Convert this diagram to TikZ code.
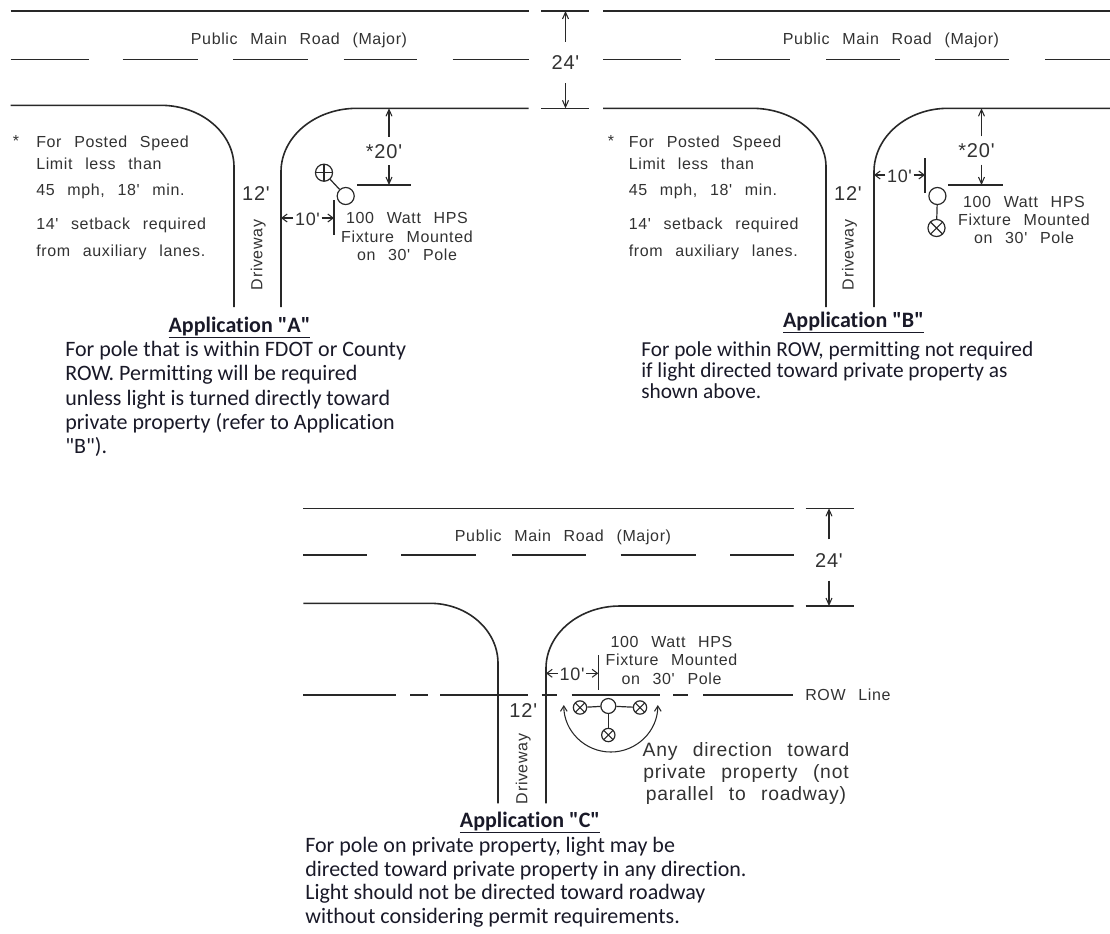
\documentclass[tikz,border=0pt]{standalone}
\usepackage{fontspec}
\setmainfont{Carlito}[Ligatures={TeXOff,NoCommon}]
\newfontfamily\cadfont{Liberation Sans}[Ligatures=TeXOff,WordSpace=2.5,LetterSpace=4]
\usetikzlibrary{arrows.meta}
\definecolor{inkline}{RGB}{40,40,40}
\definecolor{cadgray}{RGB}{50,50,50}
\definecolor{bodyink}{RGB}{25,25,40}
\tikzset{
  road/.style={inkline, line width=1.2pt},
  curb/.style={inkline, line width=0.9pt},
  dimline/.style={inkline, line width=0.8pt},
  dimarrow/.style={dimline, -{Straight Barb[length=5pt,width=4.5pt]}},
  tenarrow/.style={dimline, -{Straight Barb[length=4pt,width=6pt]}},
  cad/.style={font=\cadfont\fontsize{12}{14}\selectfont, text=cadgray, inner sep=0pt, text height=8.6pt, text depth=0pt},
  dimtext/.style={cad, font=\cadfont\fontsize{15}{17}\selectfont, text height=10.7pt},
  bodytext/.style={font=\fontsize{16.5}{18}\selectfont, text=bodyink, inner sep=0pt, text height=11.5pt, text depth=3.5pt},
  applabel/.style={bodytext, font=\bfseries\fontsize{16.5}{18}\selectfont},
  pole/.style={circle, draw=inkline, line width=0.9pt, inner sep=0pt, minimum size=12.8pt},
  fixcross/.style={pole, path picture={\draw[inkline, line width=0.8pt]
      (path picture bounding box.north west) -- (path picture bounding box.south east)
      (path picture bounding box.north east) -- (path picture bounding box.south west);}},
  fixplus/.style={pole, path picture={\draw[inkline, line width=0.8pt]
      (path picture bounding box.north) -- (path picture bounding box.south)
      (path picture bounding box.east) -- (path picture bounding box.west);}}
}
\begin{document}
\begin{tikzpicture}[x=0.75pt, y=-0.75pt]
\useasboundingbox (0,0) rectangle (1110,933);

% roads of applications A and B
\draw[road] (10.7,11) -- (528.6,11);
\draw[road] (541,11) -- (589,11);
\draw[road] (603,11) -- (1110,11);
\foreach \a/\b in {10.7/88.6, 122.5/197.5, 232.9/307.9, 343.6/416.8, 452.5/528.6,
                   603/681, 715/790, 826/900, 935/1009, 1045/1110}
  \draw[road] (\a,59.3) -- (\b,59.3);
\draw[road] (10.7,105.3) -- (160.7,105.3) .. controls (201.2,105.3) and (234,132.9) .. (234,167) -- (234,307);
\draw[road] (281,307) -- (281,171.7) .. controls (281,136.7) and (315,108.3) .. (357,108.3) -- (528.6,108.3);
\draw[road] (541,108.3) -- (589,108.3);
\draw[road] (603,108.3) -- (752,108.3) .. controls (792.9,108.3) and (826,134.4) .. (826,166.7) -- (826,307);
\draw[road] (874,307) -- (874,171.7) .. controls (874,136.7) and (907.1,108.3) .. (948,108.3) -- (1110,108.3);

% road of application C
\draw[road] (303.4,508.3) -- (793.7,508.3);
\draw[road] (805.5,508.3) -- (854,508.3);
\foreach \a/\b in {303.4/367, 401/476, 512/586, 620.5/695.6, 730/793.7}
  \draw[road] (\a,555) -- (\b,555);
\draw[road] (303.4,603.3) -- (430,603.3) .. controls (467.6,603.3) and (498,630.2) .. (498,663.3) -- (498,803.3);
\draw[road] (546,803.3) -- (546,668.3) .. controls (546,633.9) and (579.1,606) .. (620,606) -- (793.7,606);
\draw[road] (805.5,606) -- (854,606);
% ROW line
\foreach \a/\b in {303.4/396, 410/428, 440/528.3, 541.7/556.7, 571.7/660, 673/688, 703/793}
  \draw[road] (\a,695) -- (\b,695);
\node[cad, anchor=west] (rowC) at (805,695) {ROW Line};

% road names
\node[cad] (roadA) at (299,39) {Public Main Road (Major)};
\node[cad] (roadB) at (891,39) {Public Main Road (Major)};
\node[cad] (roadC) at (563,536) {Public Main Road (Major)};

% 24' widths
\node[dimtext, inner ysep=10pt] (wAB) at (565.5,62.3) {24'};
\coordinate (wABtop) at (565.5,11);
\coordinate (wABbot) at (565.5,108.3);
\draw[dimarrow] (wAB.north) -- (wABtop);
\draw[dimarrow] (wAB.south) -- (wABbot);
\node[dimtext, inner ysep=10pt] (wC) at (829,560) {24'};
\coordinate (wCtop) at (829,508.3);
\coordinate (wCbot) at (829,606);
\draw[dimarrow] (wC.north) -- (wCtop);
\draw[dimarrow] (wC.south) -- (wCbot);

% notes
\node[cad] (starA) at (16,140.5) {*};
\node[cad] (starB) at (611,140.5) {*};
\foreach \y/\t [count=\i] in {141.7/{For Posted Speed}, 163.3/{Limit less than},
    190/{45 mph, 18' min.}, 224/{14' setback required}, 250.7/{from auxiliary lanes.}}{
  \node[cad, anchor=west] (noteA\i) at (36,\y) {\t};
  \node[cad, anchor=west] (noteB\i) at (628.5,\y) {\t};
}

% driveways
\node[dimtext] (drA) at (256,193) {12'};
\node[dimtext] (drB) at (848,193) {12'};
\node[dimtext] (drC) at (523.3,710) {12'};
\node[cad, rotate=90] (dwA) at (256.7,255) {Driveway};
\node[cad, rotate=90] (dwB) at (848,255) {Driveway};
\node[cad, rotate=90] (dwC) at (521.7,769) {Driveway};

% *20' setbacks
\node[dimtext, inner ysep=5pt] (sA) at (384,151) {*20'};
\coordinate (sAtop) at (389,108.3);
\coordinate (sAbot) at (389,185);
\draw[dimarrow] (sAtop |- sA.north) -- (sAtop);
\draw[dimarrow] (sAbot |- sA.south) -- (sAbot);
\draw[dimline] (357,185) -- (410.7,185);
\node[dimtext, inner ysep=5pt] (sB) at (976.5,150.5) {*20'};
\coordinate (sBtop) at (981.5,108.3);
\coordinate (sBbot) at (981.5,185);
\draw[dimarrow] (sBtop |- sB.north) -- (sBtop);
\draw[dimarrow] (sBbot |- sB.south) -- (sBbot);
\draw[dimline] (948,185) -- (1002.5,185);

% 10' offsets
\foreach \n/\l/\r/\y/\t/\b in {A/281/334/218/200/235, B/874/925/175/158.3/192.7, C/546/598.3/673.3/655/690}{
  \node[dimtext, font=\cadfont\fontsize{13.5}{15}\selectfont, inner xsep=1pt] (ten\n) at ({(\l+\r)/2},\y) {10'};
  \coordinate (ten\n l) at (\l,\y);
  \coordinate (ten\n r) at (\r,\y);
  \draw[tenarrow] (ten\n) -- (ten\n l);
  \draw[tenarrow] (ten\n) -- (ten\n r);
  \draw[dimline] (\r,\t) -- (\r,\b);
}

% poles and fixtures
\node[pole] (poleA) at (345.7,196) {};
\node[fixplus] (fixA) at (324,172.7) {};
\draw[curb] (poleA) -- (fixA);
\node[pole] (poleB) at (937.4,196) {};
\node[fixcross] (fixB) at (936.5,228) {};
\draw[curb] (poleB) -- (fixB);
\node[pole, minimum size=11.2pt] (poleC) at (608.3,706) {};
\node[fixcross, minimum size=10pt] (fixCl) at (580,707.5) {};
\node[fixcross, minimum size=10pt] (fixCr) at (640,707.5) {};
\node[fixcross, minimum size=10pt] (fixCb) at (608.3,735) {};
\draw[curb] (poleC) -- (fixCl);
\draw[curb] (poleC) -- (fixCr);
\draw[curb] (poleC) -- (fixCb);
\draw[dimline, {Straight Barb[length=4pt,width=5pt]}-{Straight Barb[length=4pt,width=5pt]}]
  (563.8,705) arc[start angle=180, end angle=0, radius=47];

% fixture labels
\foreach \t [count=\i from 0] in {100 Watt HPS, Fixture Mounted, on 30' Pole}{
  \node[cad] (lampA\i) at (407,218+18.5*\i) {\t};
  \node[cad] (lampB\i) at (1024,201.7+18.2*\i) {\t};
  \node[cad] (lampC\i) at (671.5,641.7+18.3*\i) {\t};
}
\foreach \t [count=\i from 0] in {Any direction toward, private property (not, parallel to roadway)}
  \node[cad, font=\cadfont\fontsize{14.5}{16}\selectfont, text height=10.4pt] (anyC\i) at (746,750+21.7*\i) {\t};

% application texts
\node[applabel] (appA) at (239.5,327) {\underline{Application "A"}};
\foreach \t [count=\i from 0] in {For pole that is within FDOT or County, ROW. Permitting will be required,
    unless light is turned directly toward, private property (refer to Application, "B").}
  \node[bodytext, anchor=west] (bodyA\i) at (65,351+24.4*\i) {\t};
\node[applabel] (appB) at (853.5,322) {\underline{Application "B"}};
\foreach \t [count=\i from 0] in {{For pole within ROW, permitting not required},
    if light directed toward private property as, shown above.}
  \node[bodytext, font=\fontsize{16}{18}\selectfont, anchor=west] (bodyB\i) at (641,351+21*\i) {\t};
\node[applabel] (appC) at (530,822) {\underline{Application "C"}};
\foreach \t [count=\i from 0] in {{For pole on private property, light may be},
    directed toward private property in any direction., Light should not be directed toward roadway,
    without considering permit requirements.}
  \node[bodytext, anchor=west] (bodyC\i) at (305,847+23.7*\i) {\t};
\end{tikzpicture}
\end{document}
